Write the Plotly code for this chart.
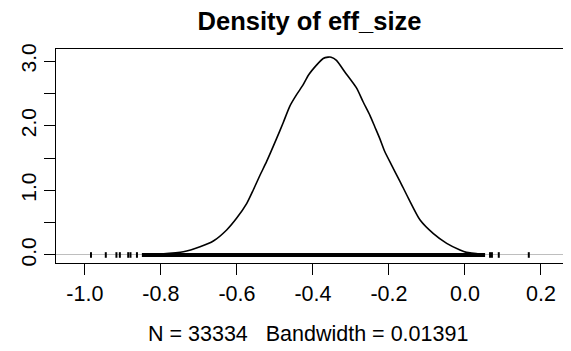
import plotly.graph_objects as go

# Density curve
dens_x = [-0.80, -0.741, -0.697, -0.662, -0.627, -0.601, -0.574, -0.557, -0.539,
          -0.522, -0.496, -0.478, -0.461, -0.443, -0.426, -0.412, -0.390, -0.373, -0.360,
          -0.352, -0.338, -0.316, -0.285, -0.268, -0.250, -0.237, -0.224, -0.211, -0.193,
          -0.171, -0.149, -0.118, -0.083, -0.048, -0.013, 0.004, 0.045]
dens_y = [0.015, 0.05, 0.128, 0.216, 0.387, 0.567, 0.799, 1.005, 1.237,
          1.443, 1.795, 2.05, 2.30, 2.48, 2.63, 2.78, 2.94, 3.04, 3.06,
          3.06, 3.01, 2.83, 2.58, 2.37, 2.16, 1.98, 1.80, 1.60, 1.39,
          1.14, 0.88, 0.54, 0.33, 0.18, 0.077, 0.04, 0.008]

# Rug: dense band extent and isolated observations
rug_band = [-0.85, 0.053]
rug_ticks = [-0.984, -0.945, -0.917, -0.908, -0.886, -0.880, -0.863, 0.066, 0.071, 0.089, 0.168]

x_ticks = [-1.0, -0.8, -0.6, -0.4, -0.2, 0.0, 0.2]
x_labels = ["-1.0", "-0.8", "-0.6", "-0.4", "-0.2", "0.0", "0.2"]
y_ticks = [0, 0.5, 1, 1.5, 2, 2.5, 3]
y_labels = ["0.0", "", "1.0", "", "2.0", "", "3.0"]

title = "Density of eff_size"
subtitle = "N = 33334   Bandwidth = 0.01391"

FONT = "Liberation Sans, Arial, sans-serif"

# The page body has an 8px margin, so the figure is drawn 8px in from the corner.
W, H = 563, 343
ML, MR, MT, MB = 48, 8, 41, 88
PLOT_W = W - ML - MR
PLOT_H = H - MT - MB

fig = go.Figure()
fig.add_trace(go.Scatter(x=rug_band, y=[0, 0], mode="lines",
                         line=dict(color="black", width=4), hoverinfo="skip"))
fig.add_trace(go.Scatter(x=rug_ticks, y=[0] * len(rug_ticks), mode="markers",
                         marker=dict(symbol="line-ns", size=4, line=dict(color="black", width=2)),
                         hoverinfo="skip"))
fig.add_trace(go.Scatter(x=dens_x, y=dens_y, mode="lines",
                         line=dict(color="black", width=1.6, shape="spline", smoothing=0.6)))

fig.update_layout(
    width=W, height=H,
    margin=dict(l=ML, r=MR, t=MT, b=MB),
    paper_bgcolor="white", plot_bgcolor="white",
    showlegend=False,
    font=dict(family=FONT, color="black"),
    title=dict(text="<b>" + title + "</b>", x=301.5 / W, xanchor="center", xref="container",
               y=1 - 4 / H, yanchor="top", yref="container", pad=dict(t=0, b=0, l=0, r=0),
               font=dict(size=25.5, family=FONT, color="black")),
    annotations=[dict(text=subtitle, x=(299.5 - ML) / PLOT_W, xref="paper",
                      y=-71 / PLOT_H, yref="paper", xanchor="center", yanchor="middle",
                      showarrow=False, font=dict(size=21.5, family=FONT, color="black"))],
)
fig.update_xaxes(range=[-1.076, 0.258], tickvals=x_ticks, ticktext=x_labels,
                 ticks="outside", ticklen=11, tickwidth=1, tickcolor="black",
                 showline=True, mirror=True, linecolor="black", linewidth=1,
                 showgrid=False, zeroline=False, automargin=False,
                 tickfont=dict(size=21.5, family=FONT, color="black"))
fig.update_yaxes(range=[-0.124, 3.186], tickvals=y_ticks, ticktext=y_labels, tickangle=-90,
                 ticks="outside", ticklen=11, tickwidth=1, tickcolor="black",
                 showline=True, mirror=True, linecolor="black", linewidth=1,
                 showgrid=False, zeroline=True, zerolinecolor="#bebebe", zerolinewidth=1,
                 automargin=False,
                 tickfont=dict(size=21, family=FONT, color="black"))

fig.write_html("out.html")
